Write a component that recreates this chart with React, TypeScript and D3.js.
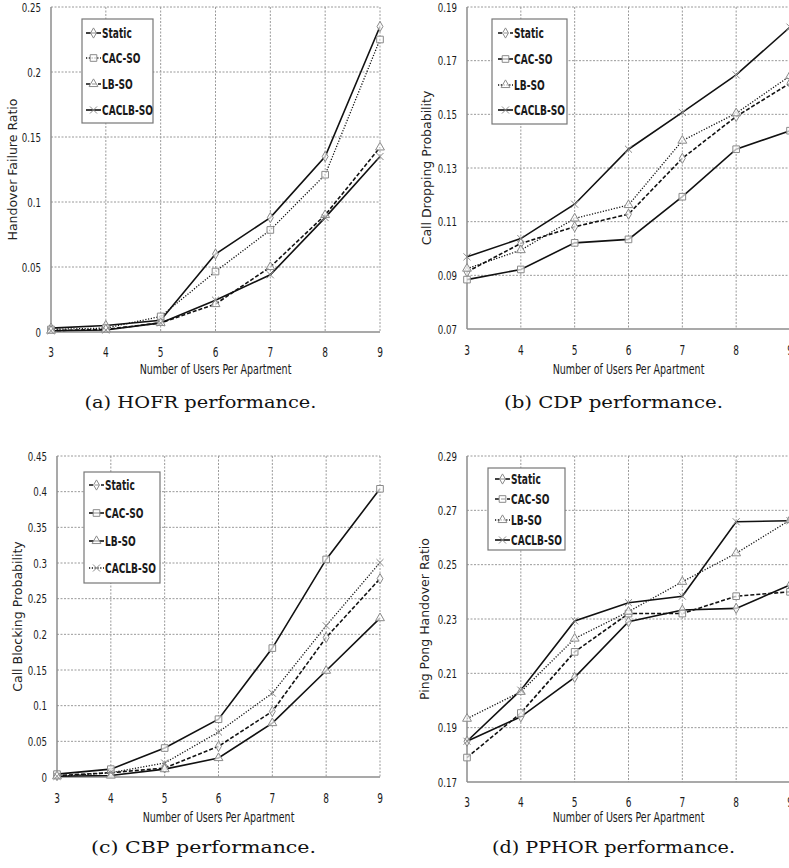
import React from "react";
import * as d3 from "d3";

// ---------- DATA ----------
const xCats = [3, 4, 5, 6, 7, 8, 9];
const seriesNames = ["Static", "CAC-SO", "LB-SO", "CACLB-SO"];

// (a) Handover failure ratio
const hofrStatic = [0.003, 0.005, 0.009, 0.06, 0.088, 0.135, 0.235];
const hofrCac = [0.002, 0.003, 0.012, 0.0465, 0.0785, 0.121, 0.225];
const hofrLb = [0.001, 0.002, 0.007, 0.0215, 0.05, 0.09, 0.142];
const hofrCaclb = [0.001, 0.0015, 0.007, 0.0245, 0.044, 0.088, 0.135];
const hofrTicks = ["0", "0.05", "0.1", "0.15", "0.2", "0.25"];

// (b) Call dropping probability
const cdpStatic = [0.0913, 0.1019, 0.1081, 0.1128, 0.1336, 0.1492, 0.1616];
const cdpCac = [0.0884, 0.0922, 0.1021, 0.1034, 0.1193, 0.137, 0.1439];
const cdpLb = [0.0925, 0.0994, 0.1112, 0.1162, 0.1402, 0.1504, 0.1643];
const cdpCaclb = [0.0969, 0.1037, 0.1165, 0.137, 0.1507, 0.1647, 0.1825];
const cdpTicks = ["0.07", "0.09", "0.11", "0.13", "0.15", "0.17", "0.19"];

// (c) Call blocking probability
const cbpStatic = [0.002, 0.006, 0.0126, 0.043, 0.092, 0.1956, 0.278];
const cbpCac = [0.004, 0.011, 0.0406, 0.081, 0.1807, 0.305, 0.404];
const cbpLb = [0.001, 0.002, 0.011, 0.0266, 0.0756, 0.149, 0.2227];
const cbpCaclb = [0.001, 0.006, 0.0196, 0.063, 0.1176, 0.212, 0.3006];
const cbpTicks = ["0", "0.05", "0.1", "0.15", "0.2", "0.25", "0.3", "0.35", "0.4", "0.45"];

// (d) Ping pong handover ratio
const ppStatic = [0.185, 0.194, 0.2085, 0.229, 0.2333, 0.2339, 0.2425];
const ppCac = [0.179, 0.1954, 0.2179, 0.232, 0.232, 0.2384, 0.24];
const ppLb = [0.1933, 0.2032, 0.2228, 0.2327, 0.2437, 0.2542, 0.2664];
const ppCaclb = [0.185, 0.2038, 0.2293, 0.236, 0.2384, 0.2658, 0.2662];
const ppTicks = ["0.17", "0.19", "0.21", "0.23", "0.25", "0.27", "0.29"];

const xTitle = "Number of Users Per Apartment";

// ---------- STYLE ----------
type Dash = "solid" | "dashed" | "dotted";
type Mark = "diamond" | "square" | "triangle" | "x";
const dashArr: Record<Dash, string | undefined> = {
  solid: undefined,
  dashed: "4,2",
  dotted: "1.2,1.6",
};
const symType: Record<Mark, d3.SymbolType> = {
  diamond: d3.symbolDiamond,
  square: d3.symbolSquare,
  triangle: d3.symbolTriangle,
  x: d3.symbolX,
};
const symSize: Record<Mark, number> = { diamond: 30, square: 44, triangle: 34, x: 34 };

const NARROW = "'DejaVu Sans Condensed', 'DejaVu Sans', sans-serif";
const TITLE_FONT = "'DejaVu Sans', 'Liberation Sans', sans-serif";
const CAP_FONT = "'DejaVu Serif', 'Liberation Serif', serif";

function SqText(props: {
  x: number;
  y: number;
  sx: number;
  anchor?: "start" | "middle" | "end";
  size: number;
  bold?: boolean;
  dy?: string;
  children: React.ReactNode;
}) {
  return (
    <g transform={`translate(${props.x},${props.y}) scale(${props.sx},1)`}>
      <text
        x={0}
        y={0}
        dy={props.dy}
        textAnchor={props.anchor || "start"}
        fontFamily={NARROW}
        fontStretch="condensed"
        fontWeight={props.bold ? "bold" : "normal"}
        fontSize={props.size}
        fill="#1a1a1a"
      >
        {props.children}
      </text>
    </g>
  );
}

interface Series {
  name: string;
  values: number[];
  dash: Dash;
  mark: Mark;
}

interface PanelProps {
  left: number;
  right: number;
  top: number;
  bottom: number;
  ticks: string[];
  series: Series[];
  yTitle: string;
  yTitleX: number;
  caption: string;
  captionY: number;
  captionLen: number;
  tickY: number;
  xTitleY: number;
  legend: { x0: number; x1: number; y0: number; y1: number; items: number[]; lx: number };
}

function Marker({ mark, x, y }: { mark: Mark; x: number; y: number }) {
  const path = d3.symbol().type(symType[mark]).size(symSize[mark])() || "";
  return (
    <path
      d={path}
      transform={`translate(${x},${y})`}
      fill={mark === "x" ? "none" : "#fff"}
      fillOpacity={0.7}
      stroke="#8a8a8a"
      strokeWidth={1}
    />
  );
}

function Panel(p: PanelProps) {
  const tv = p.ticks.map(Number);
  const y = d3.scaleLinear().domain([tv[0], tv[tv.length - 1]]).range([p.bottom, p.top]);
  const x = d3
    .scaleLinear()
    .domain([xCats[0], xCats[xCats.length - 1]])
    .range([p.left, p.right]);
  const line = d3
    .line<number>()
    .x((_, i) => x(xCats[i]))
    .y((v) => y(v));
  return (
    <g>
      {/* grid */}
      {tv.slice(1).map((t) => (
        <line
          key={"gy" + t}
          x1={p.left}
          x2={p.right}
          y1={y(t)}
          y2={y(t)}
          stroke="#9a9a9a"
          strokeWidth={1}
          strokeDasharray="2,1.5"
        />
      ))}
      {xCats.slice(1).map((c) => (
        <line
          key={"gx" + c}
          x1={x(c)}
          x2={x(c)}
          y1={p.top}
          y2={p.bottom}
          stroke="#9a9a9a"
          strokeWidth={1}
          strokeDasharray="2,1.5"
        />
      ))}
      {/* axes */}
      <line x1={p.left} x2={p.left} y1={p.top} y2={p.bottom} stroke="#8c8c8c" strokeWidth={1.5} />
      <line x1={p.left} x2={p.right} y1={p.bottom} y2={p.bottom} stroke="#8c8c8c" strokeWidth={1.5} />
      {/* y tick labels */}
      {p.ticks.map((t, i) => (
        <SqText key={"yl" + t} x={p.left - 10} y={y(tv[i])} dy="0.35em" sx={0.74} anchor="end" size={13}>
          {t}
        </SqText>
      ))}
      {/* x tick labels */}
      {xCats.map((c) => (
        <SqText key={"xl" + c} x={x(c)} y={p.tickY} sx={0.74} anchor="middle" size={13.5}>
          {c}
        </SqText>
      ))}
      <SqText x={(p.left + p.right) / 2} y={p.xTitleY} sx={0.8} anchor="middle" size={13.2}>
        {xTitle}
      </SqText>
      <text
        transform={`translate(${p.yTitleX},${(p.top + p.bottom) / 2}) rotate(-90)`}
        textAnchor="middle"
        dy="0.35em"
        fontFamily={TITLE_FONT}
        fontSize={12.5}
        fill="#222"
      >
        {p.yTitle}
      </text>
      {/* lines */}
      {p.series.map((s) => (
        <path
          key={"l" + s.name}
          d={line(s.values) || ""}
          fill="none"
          stroke="#111"
          strokeWidth={s.dash === "dotted" ? 1.3 : 1.6}
          strokeDasharray={dashArr[s.dash]}
        />
      ))}
      {p.series.map((s) =>
        s.values.map((v, i) => <Marker key={s.name + i} mark={s.mark} x={x(xCats[i])} y={y(v)} />)
      )}
      {/* legend */}
      <rect
        x={p.legend.x0}
        y={p.legend.y0}
        width={p.legend.x1 - p.legend.x0}
        height={p.legend.y1 - p.legend.y0}
        fill="#fff"
        stroke="#777"
        strokeWidth={1.2}
      />
      {p.series.map((s, i) => {
        const ly = p.legend.items[i];
        const lx = p.legend.lx;
        return (
          <g key={"lg" + s.name}>
            <line
              x1={lx}
              x2={lx + 15}
              y1={ly}
              y2={ly}
              stroke="#111"
              strokeWidth={s.dash === "dotted" ? 1.3 : 1.6}
              strokeDasharray={dashArr[s.dash]}
            />
            <Marker mark={s.mark} x={lx + 7.5} y={ly} />
            <SqText x={lx + 16} y={ly} dy="0.35em" sx={0.72} size={14} bold>
              {s.name}
            </SqText>
          </g>
        );
      })}
      {/* caption */}
      <text
        x={(p.left + p.right) / 2 - 15}
        y={p.captionY}
        textAnchor="middle"
        fontFamily={CAP_FONT}
        fontSize={17}
        textLength={p.captionLen}
        lengthAdjust="spacingAndGlyphs"
        fill="#111"
      >
        {p.caption}
      </text>
    </g>
  );
}

function mk(vals: number[][], dashes: Dash[]): Series[] {
  const marks: Mark[] = ["diamond", "square", "triangle", "x"];
  return seriesNames.map((n, i) => ({ name: n, values: vals[i], dash: dashes[i], mark: marks[i] }));
}

export default function App() {
  return (
    <svg
      width={789}
      height={868}
      style={{ position: "absolute", left: 0, top: 0, background: "#fff" }}
    >
      <Panel
        left={51}
        right={380}
        top={7}
        bottom={332}
        ticks={hofrTicks}
        series={mk([hofrStatic, hofrCac, hofrLb, hofrCaclb], ["solid", "dotted", "dashed", "solid"])}
        yTitle="Handover Failure Ratio"
        yTitleX={13}
        caption="(a) HOFR performance."
        captionY={408}
        captionLen={232}
        tickY={357}
        xTitleY={374}
        legend={{ x0: 82, x1: 153, y0: 19, y1: 123, items: [33, 58, 84, 110], lx: 86 }}
      />
      <Panel
        left={467}
        right={790}
        top={7}
        bottom={329}
        ticks={cdpTicks}
        series={mk([cdpStatic, cdpCac, cdpLb, cdpCaclb], ["dashed", "solid", "dotted", "solid"])}
        yTitle="Call Dropping Probability"
        yTitleX={427}
        caption="(b) CDP performance."
        captionY={408}
        captionLen={219}
        tickY={355}
        xTitleY={374}
        legend={{ x0: 492, x1: 567, y0: 19, y1: 124, items: [33, 59, 85, 110], lx: 498 }}
      />
      <Panel
        left={57}
        right={380}
        top={456}
        bottom={777}
        ticks={cbpTicks}
        series={mk([cbpStatic, cbpCac, cbpLb, cbpCaclb], ["dashed", "solid", "solid", "dotted"])}
        yTitle="Call Blocking Probability"
        yTitleX={18}
        caption="(c) CBP performance."
        captionY={853}
        captionLen={225}
        tickY={803}
        xTitleY={822}
        legend={{ x0: 84, x1: 160, y0: 472, y1: 583, items: [485, 513, 541, 568], lx: 89 }}
      />
      <Panel
        left={467}
        right={790}
        top={456}
        bottom={782}
        ticks={ppTicks}
        series={mk([ppStatic, ppCac, ppLb, ppCaclb], ["solid", "dashed", "dotted", "solid"])}
        yTitle="Ping Pong Handover Ratio"
        yTitleX={425}
        caption="(d) PPHOR performance."
        captionY={853}
        captionLen={243}
        tickY={807}
        xTitleY={822}
        legend={{ x0: 488, x1: 565, y0: 468, y1: 550, items: [479, 499, 520, 540], lx: 495 }}
      />
    </svg>
  );
}
